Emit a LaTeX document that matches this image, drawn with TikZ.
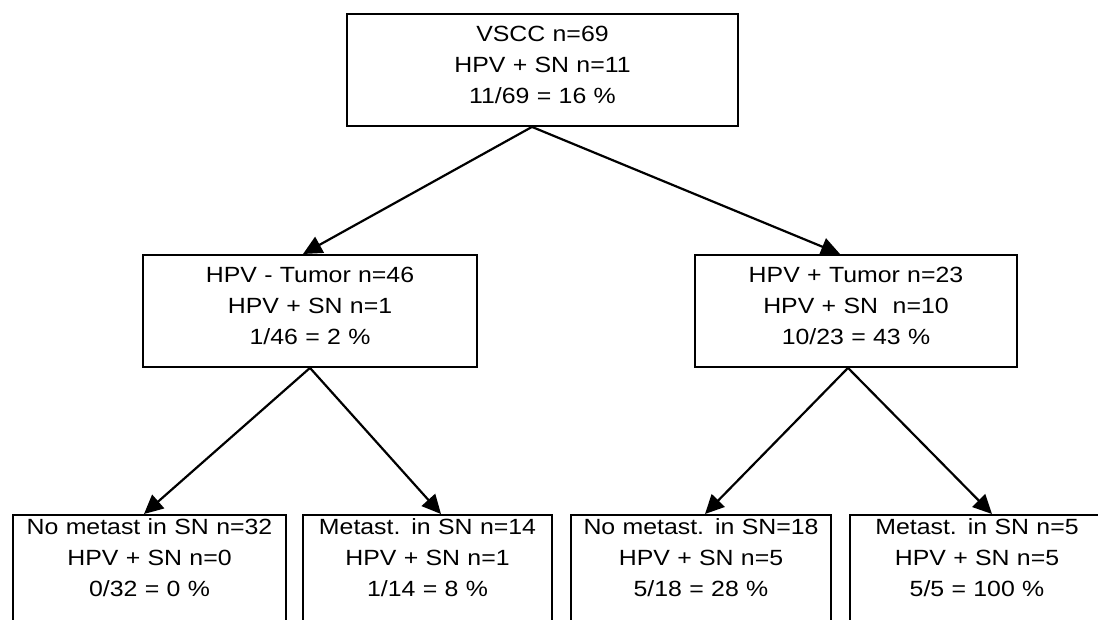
\documentclass[tikz,border=0pt]{standalone}
\usepackage{fontspec}
\setmainfont{Liberation Sans}[FakeStretch=1.13]
\usetikzlibrary{arrows.meta}

\begin{document}
\begin{tikzpicture}[x=1pt, y=-1pt,
    every node/.style={font=\fontsize{22}{31}\selectfont},
    box/.style={draw, line width=2.4pt, anchor=north, align=center, inner xsep=0pt, inner ysep=11.5pt, text height=15.5pt, text depth=73pt},
    leaf/.style={box, inner ysep=4pt, text depth=120pt},
    arr/.style={-{Triangle[length=19pt, width=18pt]}, line width=2.2pt}]
        \useasboundingbox (0,0) rectangle (1098,619);
        \clip (0,0) rectangle (1098,619);
        \node[box, text width=391pt] (vscc) at (542.5,13) {VSCC n=69\\HPV + SN n=11\\11/69 = 16 \%};
        \node[box, text width=334pt] (hpvneg) at (310,254) {HPV - Tumor n=46\\HPV + SN n=1\\1/46 = 2 \%};
        \node[box, text width=322pt] (hpvpos) at (856,254) {HPV + Tumor n=23\\HPV + SN\ \ n=10\\10/23 = 43 \%};
        \node[leaf, text width=273pt] (negno) at (149.5,514) {No metast in SN n=32\\HPV + SN n=0\\0/32 = 0 \%};
        \node[leaf, text width=249pt] (negmet) at (427.5,514) {Metast. in SN n=14\\HPV + SN n=1\\1/14 = 8 \%};
        \node[leaf, text width=260pt] (posno) at (701,514) {No metast. in SN=18\\HPV + SN n=5\\5/18 = 28 \%};
        \node[leaf, text width=254pt] (posmet) at (977,514) {Metast. in SN n=5\\HPV + SN n=5\\5/5 = 100 \%};
        \draw[arr] ([xshift=-10.5pt]vscc.south) -- ([xshift=-7pt]hpvneg.north);
        \draw[arr] ([xshift=-10.5pt]vscc.south) -- ([xshift=-16pt]hpvpos.north);
        \draw[arr] (hpvneg.south) -- ([xshift=-5.5pt]negno.north);
        \draw[arr] (hpvneg.south) -- ([xshift=13.5pt]negmet.north);
        \draw[arr] ([xshift=-8pt]hpvpos.south) -- ([xshift=4pt]posno.north);
        \draw[arr] ([xshift=-8pt]hpvpos.south) -- ([xshift=15pt]posmet.north);
      \end{tikzpicture}
\end{document}
